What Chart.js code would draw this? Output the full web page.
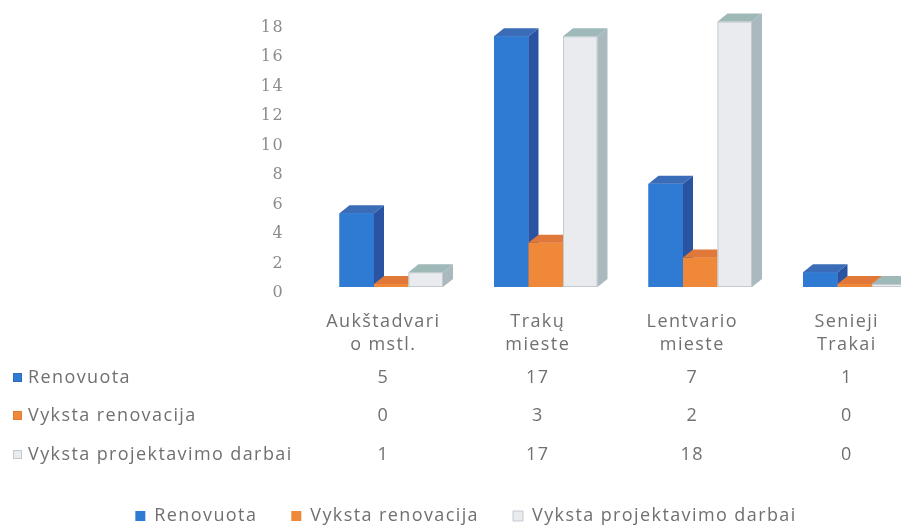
<!DOCTYPE html>
<html>
<head>
<meta charset="utf-8">
<script src="https://cdn.jsdelivr.net/npm/chart.js@4.4.1/dist/chart.umd.min.js"></script>
<style>
  html, body { margin: 0; padding: 0; background: #fff; overflow: hidden; }
  #chartDisplay { width: 932px; height: 537px; margin-top: -10px; }
</style>
</head>
<body>
<div id="chartDisplay"><canvas id="myChart"></canvas></div>
<script>
// data
const categories = [["Aukštadvari", "o mstl."], ["Trakų", "mieste"], ["Lentvario", "mieste"], ["Senieji", "Trakai"]];
const seriesNames = ["Renovuota", "Vyksta renovacija", "Vyksta projektavimo darbai"];
const renovuota = [5, 17, 7, 1];
const vykstaRenovacija = [0, 3, 2, 0];
const vykstaProjektavimo = [1, 17, 18, 0];
const yTicks = [0, 2, 4, 6, 8, 10, 12, 14, 16, 18];

const textColor = '#707070';
const labelFont = { family: "'Open Sans', sans-serif", size: 18, lineHeight: 1.3 };
const spacing = '1.4px';

// front, side, top colours for each series
const faces = [
  { front: '#2f7bd3', side: '#2a53a2', top: '#3a6cb8', border: '#2f6cbd' },
  { front: '#f0883a', side: '#c8682a', top: '#e0783a', border: '#e07c33' },
  { front: '#e9ebee', side: '#a9b9be', top: '#9fb8b8', border: '#c3cbd0' }
];
const depthX = 10;
const depthY = -8;

// wider letter spacing like the scanned original
const letterSpacing = {
  id: 'letterSpacing',
  beforeUpdate(chart) { chart.ctx.letterSpacing = spacing; },
  beforeDraw(chart) { chart.ctx.letterSpacing = spacing; }
};

// draws the 3d sides and tops, series by series so later bars cover earlier sides
const bar3d = {
  id: 'bar3d',
  afterDatasetsDraw(chart) {
    const ctx = chart.ctx;
    ctx.save();
    chart.data.datasets.forEach(function (ds, i) {
      const c = faces[i];
      chart.getDatasetMeta(i).data.forEach(function (el) {
        const p = el.getProps(['x', 'y', 'base', 'width'], true);
        const left = p.x - p.width / 2;
        const right = p.x + p.width / 2;
        let top = p.y;
        if (p.base - top < 3) top = p.base - 3;
        // front
        ctx.fillStyle = c.front;
        ctx.fillRect(left, top, p.width, p.base - top);
        if (i === 2) {
          ctx.strokeStyle = c.border;
          ctx.lineWidth = 1;
          ctx.strokeRect(left + 0.5, top + 0.5, p.width - 1, p.base - top - 1);
        }
        // side
        ctx.fillStyle = c.side;
        ctx.beginPath();
        ctx.moveTo(right, top);
        ctx.lineTo(right + depthX, top + depthY);
        ctx.lineTo(right + depthX, p.base + depthY);
        ctx.lineTo(right, p.base);
        ctx.closePath();
        ctx.fill();
        // top
        ctx.fillStyle = c.top;
        ctx.beginPath();
        ctx.moveTo(left, top);
        ctx.lineTo(left + depthX, top + depthY);
        ctx.lineTo(right + depthX, top + depthY);
        ctx.lineTo(right, top);
        ctx.closePath();
        ctx.fill();
      });
    });
    ctx.restore();
  }
};

// data table under the category labels
const dataTable = {
  id: 'dataTable',
  afterDraw(chart) {
    const ctx = chart.ctx;
    const xScale = chart.scales.x;
    const rowsY = [388, 426, 465];
    ctx.save();
    ctx.letterSpacing = spacing;
    ctx.font = labelFont.size + 'px ' + labelFont.family;
    ctx.textBaseline = 'middle';
    chart.data.datasets.forEach(function (ds, i) {
      const y = rowsY[i];
      ctx.fillStyle = faces[i].front;
      ctx.fillRect(13, y - 5, 9, 9);
      ctx.strokeStyle = faces[i].border;
      ctx.lineWidth = 1;
      ctx.strokeRect(13.5, y - 4.5, 8, 8);
      ctx.fillStyle = textColor;
      ctx.textAlign = 'left';
      ctx.fillText(ds.label, 28, y);
      ctx.textAlign = 'center';
      ds.data.forEach(function (v, j) {
        ctx.fillText(String(v), xScale.getPixelForValue(j) - 8, y);
      });
    });
    ctx.restore();
  }
};

const seriesData = [renovuota, vykstaRenovacija, vykstaProjektavimo];

const data = {
  labels: categories,
  datasets: seriesData.map(function (vals, i) {
    return {
      label: seriesNames[i],
      data: vals,
      backgroundColor: faces[i].front,
      borderColor: faces[i].border,
      borderWidth: i === 2 ? 1 : 0
    };
  })
};

const config = {
  type: 'bar',
  data,
  options: {
    responsive: true,
    maintainAspectRatio: false,
    animation: false,
    categoryPercentage: 0.67,
    barPercentage: 1,
    layout: { padding: { top: -25, right: 0, left: 0, bottom: -8 } },
    plugins: {
      legend: {
        position: 'bottom',
        labels: {
          color: textColor,
          font: labelFont,
          boxWidth: 10,
          boxHeight: 10,
          padding: 34
        }
      },
      tooltip: { enabled: false }
    },
    scales: {
      x: {
        grid: { display: false },
        border: { display: false },
        ticks: { color: textColor, font: labelFont, padding: 15, labelOffset: -8, maxRotation: 0 },
        afterFit(scale) { scale.height = 186; }
      },
      y: {
        min: 0,
        max: 18,
        grid: { display: false },
        border: { display: false },
        afterBuildTicks(scale) { scale.ticks = yTicks.map(v => ({ value: v })); },
        ticks: {
          color: '#8c8c8c',
          font: { family: "'DejaVu Serif', serif", size: 16 },
          padding: 22,
          labelOffset: 6
        },
        afterFit(scale) { scale.width = 314; }
      }
    }
  },
  plugins: [letterSpacing, bar3d, dataTable]
};

var myChart = new Chart(document.getElementById('myChart'), config);
</script>
</body>
</html>
